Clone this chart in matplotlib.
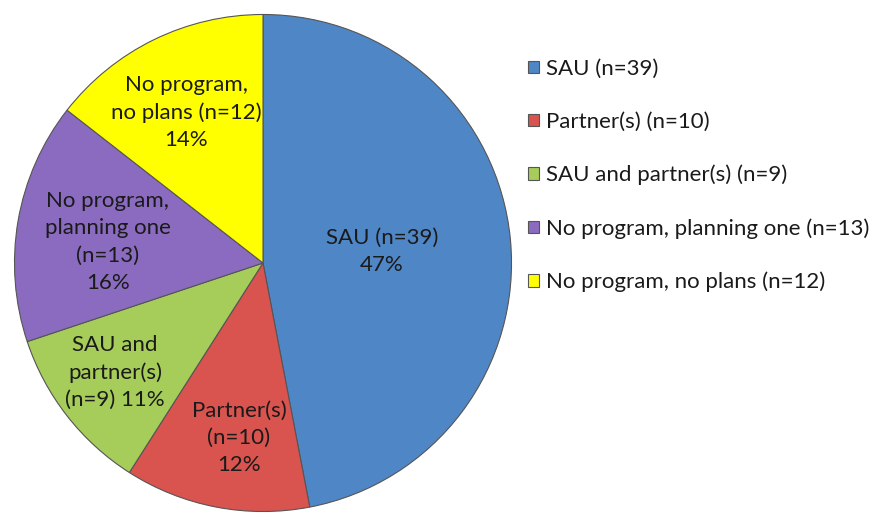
import numpy as np
import matplotlib
matplotlib.use("Agg")
import matplotlib.pyplot as plt

plt.rcParams['font.family'] = ['Lato', 'DejaVu Sans']

categories = ["SAU (n=39)", "Partner(s) (n=10)", "SAU and partner(s) (n=9)",
              "No program, planning one (n=13)", "No program, no plans (n=12)"]
counts = [39, 10, 9, 13, 12]
slice_labels = ["SAU (n=39)\n47%", "Partner(s)\n(n=10)\n12%", "SAU and\npartner(s)\n(n=9) 11%",
                "No program,\nplanning one\n(n=13)\n16%", "No program,\nno plans (n=12)\n14%"]
colors = ["#4F86C6", "#D9534F", "#A6CC5A", "#8B6BBF", "#FFFF00"]

# label radius / angle nudge for each slice (inside text)
label_r = [0.48, 0.71, 0.74, 0.63, 0.68]
label_dang = [0, 3, -1.5, 2, 1]

fig = plt.figure(figsize=(8.76, 5.17), dpi=100)
ax = fig.add_axes([12/876, 3/517, 502/876, 502/517])

wedges, _ = ax.pie(counts, colors=colors, startangle=90, counterclock=False, radius=1,
                   wedgeprops=dict(edgecolor="#555555", linewidth=0.8))

for w, txt, r, da in zip(wedges, slice_labels, label_r, label_dang):
    ang = np.deg2rad((w.theta1 + w.theta2) / 2 + da)
    ax.text(r*np.cos(ang), r*np.sin(ang), txt, ha="center", va="center",
            fontsize=16, linespacing=1.45, color="#1a1a1a")

ax.set_xlim(-1.01, 1.01)
ax.set_ylim(-1.01, 1.01)
ax.set_aspect("equal")
ax.axis("off")

fig.legend(wedges, categories, loc="upper left", bbox_to_anchor=(519/876, 1 - 50/517),
           frameon=False, fontsize=16, handlelength=0.5, handleheight=0.5,
           handletextpad=0.3, labelspacing=1.48, borderaxespad=0,
           labelcolor="#1a1a1a")

fig.savefig("out.png", dpi=100)
